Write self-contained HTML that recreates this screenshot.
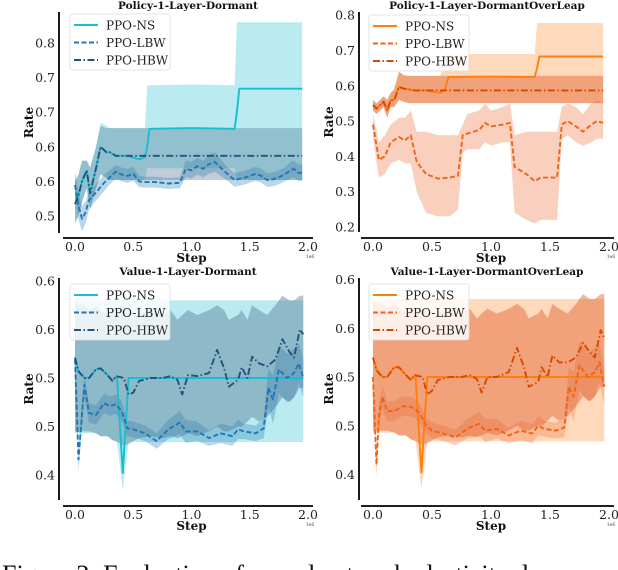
<!DOCTYPE html>
<html><head><meta charset="utf-8"><style>
html,body{margin:0;padding:0;background:#fff;width:618px;height:570px;overflow:hidden}
svg{display:block}
text{font-family:"DejaVu Serif","Liberation Serif",serif}
</style></head><body>
<svg id="fig" width="618" height="570" viewBox="0 0 618 570" xmlns="http://www.w3.org/2000/svg">
<rect width="618" height="570" fill="#fff"/>
<text x="2" y="583" font-size="26" style="font-family:'Liberation Serif',serif" fill="#111">Figure 2: Evaluation of neural network plasticity d</text>
</svg>
<script>
// ---------- data: top-left Policy-1-Layer-Dormant ----------
const tlNSx=[0,0.03,0.06,0.1,0.13,0.18,0.22,0.27,0.3,0.35,0.45,0.55,0.6,0.62,0.64,1.0,1.37,1.39,1.41,1.95];
const tlNSm=[0.517,0.53,0.55,0.566,0.533,0.569,0.600,0.592,0.592,0.587,0.587,0.582,0.585,0.6,0.626,0.627,0.626,0.65,0.684,0.684];
const tlNShi=[0.55,0.56,0.58,0.58,0.57,0.6,0.635,0.63,0.627,0.627,0.627,0.627,0.627,0.689,0.689,0.69,0.689,0.78,0.78,0.78];
const tlNSlo=[0.49,0.5,0.52,0.54,0.51,0.54,0.56,0.555,0.552,0.552,0.552,0.552,0.552,0.569,0.569,0.569,0.569,0.552,0.552,0.552];
const tlHBx=[0,0.03,0.06,0.1,0.13,0.18,0.22,0.27,0.3,0.35,1.95];
const tlHBm=[0.517,0.53,0.55,0.566,0.533,0.569,0.600,0.592,0.592,0.587,0.587];
const tlHBhi=[0.55,0.56,0.58,0.58,0.57,0.6,0.63,0.627,0.627,0.627,0.627];
const tlHBlo=[0.49,0.5,0.52,0.54,0.51,0.54,0.56,0.555,0.552,0.552,0.552];
const tlLBx=[0,0.03,0.06,0.09,0.12,0.16,0.2,0.25,0.3,0.35,0.4,0.45,0.5,0.55,0.6,0.7,0.8,0.9,0.95,1.0,1.05,1.1,1.15,1.2,1.25,1.3,1.37,1.45,1.5,1.55,1.6,1.65,1.7,1.75,1.8,1.85,1.88,1.92,1.95];
const tlLBm=[0.545,0.515,0.496,0.505,0.523,0.53,0.538,0.548,0.556,0.564,0.56,0.558,0.561,0.55,0.549,0.549,0.547,0.548,0.568,0.566,0.572,0.568,0.575,0.578,0.57,0.562,0.552,0.555,0.558,0.561,0.558,0.552,0.553,0.556,0.56,0.566,0.568,0.562,0.563];
const tlLBs=[0.02,0.02,0.018,0.016,0.014,0.012,0.012,0.012,0.01,0.01,0.01,0.01,0.01,0.008,0.008,0.008,0.008,0.008,0.012,0.012,0.012,0.012,0.014,0.014,0.012,0.01,0.01,0.01,0.01,0.01,0.01,0.01,0.01,0.01,0.01,0.012,0.012,0.012,0.012];
const tlTickV=[0.5,0.55,0.6,0.65,0.7,0.75];
const tlTickL=['0.5','0.6','0.6','0.7','0.7','0.8'];
// ---------- data: top-right Policy-1-Layer-DormantOverLeap ----------
const trNSx=[0,0.03,0.06,0.09,0.12,0.15,0.18,0.22,0.26,0.3,0.35,0.45,0.57,0.61,0.64,1.0,1.37,1.39,1.41,1.95];
const trNSm=[0.546,0.535,0.545,0.555,0.53,0.56,0.56,0.597,0.592,0.59,0.587,0.587,0.58,0.59,0.625,0.626,0.625,0.65,0.683,0.683];
const trNShi=[0.56,0.55,0.56,0.57,0.56,0.58,0.59,0.64,0.63,0.628,0.628,0.628,0.628,0.69,0.69,0.69,0.69,0.778,0.778,0.778];
const trNSlo=[0.53,0.52,0.53,0.54,0.51,0.54,0.54,0.56,0.555,0.551,0.551,0.551,0.551,0.551,0.551,0.551,0.551,0.551,0.551,0.551];
const trHBx=[0,0.03,0.06,0.09,0.12,0.15,0.18,0.22,0.26,0.3,0.35,1.95];
const trHBm=[0.546,0.535,0.545,0.555,0.53,0.56,0.56,0.597,0.592,0.59,0.587,0.587];
const trHBhi=[0.56,0.55,0.56,0.57,0.56,0.58,0.59,0.64,0.63,0.628,0.628,0.628];
const trHBlo=[0.53,0.52,0.53,0.54,0.51,0.54,0.54,0.56,0.555,0.551,0.551,0.551];
const trLBx=[0,0.05,0.1,0.15,0.22,0.27,0.32,0.37,0.45,0.55,0.65,0.72,0.76,0.8,0.9,0.95,1.0,1.1,1.16,1.2,1.3,1.37,1.42,1.5,1.56,1.6,1.65,1.72,1.78,1.85,1.9,1.95];
const trLBm=[0.49,0.39,0.40,0.44,0.455,0.445,0.46,0.385,0.35,0.337,0.34,0.345,0.46,0.465,0.475,0.495,0.485,0.49,0.495,0.37,0.35,0.33,0.34,0.34,0.34,0.49,0.5,0.485,0.47,0.49,0.5,0.495];
const trLBlo=[0.45,0.34,0.35,0.38,0.39,0.38,0.38,0.30,0.24,0.23,0.23,0.25,0.41,0.42,0.42,0.44,0.43,0.44,0.44,0.24,0.22,0.21,0.22,0.22,0.22,0.45,0.46,0.44,0.43,0.44,0.45,0.45];
const trLBhi=[0.52,0.44,0.46,0.49,0.51,0.51,0.53,0.47,0.47,0.46,0.46,0.46,0.49,0.52,0.53,0.55,0.53,0.54,0.55,0.46,0.47,0.47,0.47,0.47,0.47,0.54,0.55,0.54,0.52,0.55,0.56,0.55];
const trTickV=[0.2,0.3,0.4,0.5,0.6,0.7,0.8];
const trTickL=['0.2','0.3','0.4','0.5','0.6','0.7','0.8'];
// ---------- data: bottom-left Value-1-Layer-Dormant ----------
const blHBx=[0,0.03,0.08,0.12,0.18,0.22,0.28,0.32,0.35,0.42,0.46,0.5,0.55,0.65,0.75,0.82,0.88,0.92,0.97,1.05,1.15,1.22,1.28,1.32,1.4,1.43,1.48,1.52,1.58,1.65,1.72,1.78,1.84,1.88,1.93,1.96];
const blHBm=[0.521,0.507,0.5,0.5,0.509,0.51,0.503,0.497,0.502,0.5,0.483,0.485,0.497,0.5,0.5,0.502,0.498,0.483,0.503,0.502,0.505,0.529,0.51,0.491,0.498,0.511,0.5,0.522,0.515,0.512,0.519,0.54,0.527,0.521,0.55,0.545];
const blHBhi=[0.58,0.575,0.575,0.57,0.575,0.57,0.565,0.57,0.565,0.57,0.565,0.56,0.565,0.57,0.565,0.57,0.56,0.565,0.57,0.565,0.57,0.575,0.57,0.56,0.565,0.57,0.56,0.575,0.57,0.565,0.575,0.585,0.58,0.58,0.585,0.585];
const blHBlo=[0.445,0.445,0.445,0.445,0.443,0.44,0.44,0.436,0.435,0.43,0.432,0.435,0.438,0.44,0.438,0.44,0.438,0.44,0.443,0.44,0.445,0.45,0.445,0.445,0.45,0.45,0.455,0.46,0.455,0.46,0.47,0.48,0.475,0.48,0.49,0.49];
const blNSx=[0,0.03,0.08,0.12,0.18,0.22,0.28,0.32,0.36,0.41,0.46,1.96];
const blNSm=[0.521,0.507,0.5,0.5,0.509,0.51,0.503,0.497,0.502,0.402,0.5,0.5];
const blNShi=[0.58,0.58,0.58,0.58,0.58,0.58,0.58,0.58,0.58,0.58,0.58,0.58];
const blNSlo=[0.443,0.443,0.443,0.443,0.443,0.44,0.44,0.436,0.434,0.385,0.434,0.434];
const blLBx=[0,0.03,0.05,0.08,0.12,0.18,0.25,0.3,0.35,0.4,0.45,0.5,0.6,0.7,0.8,0.9,0.95,1.05,1.15,1.25,1.35,1.4,1.45,1.55,1.62,1.66,1.7,1.75,1.82,1.88,1.92,1.96];
const blLBm=[0.519,0.416,0.447,0.493,0.464,0.462,0.474,0.471,0.473,0.466,0.448,0.447,0.443,0.435,0.447,0.454,0.445,0.445,0.438,0.443,0.44,0.447,0.445,0.443,0.448,0.49,0.478,0.509,0.5,0.505,0.515,0.5];
const blLBs=[0.01,0.012,0.012,0.012,0.01,0.01,0.01,0.01,0.01,0.01,0.008,0.008,0.008,0.008,0.01,0.012,0.012,0.01,0.008,0.01,0.01,0.01,0.008,0.008,0.01,0.02,0.025,0.025,0.025,0.025,0.02,0.02];
const bTickV=[0.4,0.45,0.5,0.55,0.6];
const bTickL=['0.4','0.5','0.5','0.6','0.6'];
// ---------- data: bottom-right Value-1-Layer-DormantOverLeap ----------
const brHBm=[0.52,0.507,0.5,0.5,0.51,0.51,0.502,0.497,0.502,0.5,0.482,0.486,0.497,0.5,0.5,0.502,0.498,0.484,0.5,0.5,0.505,0.53,0.51,0.49,0.495,0.51,0.5,0.522,0.515,0.515,0.52,0.535,0.525,0.52,0.548,0.54];
const brNSm=[0.52,0.507,0.5,0.5,0.51,0.51,0.502,0.497,0.502,0.402,0.5,0.5];
const brLBm=[0.5,0.41,0.46,0.48,0.465,0.465,0.47,0.47,0.468,0.462,0.45,0.445,0.442,0.438,0.447,0.452,0.445,0.447,0.44,0.445,0.442,0.45,0.447,0.445,0.448,0.49,0.48,0.512,0.5,0.505,0.515,0.49];
const xTickV=[0,0.5,1.0,1.5,2.0];
const xTickL=['0.0','0.5','1.0','1.5','2.0'];

const NS='http://www.w3.org/2000/svg';
const svg=document.getElementById('fig');
function mk(tag,attrs,parent){const e=document.createElementNS(NS,tag);for(const k in attrs)e.setAttribute(k,attrs[k]);(parent||svg).appendChild(e);return e;}
function sub(a,b){return a.map((v,i)=>v-b[i]);}
function add(a,b){return a.map((v,i)=>v+b[i]);}

function panel(p){
  const g=mk('g',{});
  
  
  const X=v=>p.x0+(v/2)*(p.x2-p.x0);
  const Y=v=>p.yRef-(v-p.vRef)*p.k;
  p.series.forEach(s=>{
    let d='M'+s.x.map((x,i)=>X(x).toFixed(1)+','+Y(s.hi[i]).toFixed(1)).join('L');
    for(let i=s.x.length-1;i>=0;i--)d+='L'+X(s.x[i]).toFixed(1)+','+Y(s.lo[i]).toFixed(1);
    const b=mk('path',{d:d+'Z',fill:s.band,'fill-opacity':s.bo,stroke:'none'},g);
    
    
  });
  p.series.forEach(s=>{
    const l=mk('polyline',{points:s.x.map((x,i)=>X(x).toFixed(1)+','+Y(s.m[i]).toFixed(1)).join(' '),fill:'none',stroke:s.color,'stroke-width':1.9,'stroke-dasharray':s.dash||'none','stroke-linejoin':'round'},g);
    
    
  });
  const ys=mk('line',{x1:p.sx,x2:p.sx,y1:p.st,y2:p.sb,stroke:'#000','stroke-width':1.8},g);
  
  
  const xs=mk('line',{x1:p.x0-12,x2:p.x2+5,y1:p.xb,y2:p.xb,stroke:'#000','stroke-width':1.8},g);
  
  
  p.tv.forEach((v,i)=>{
    const t=mk('text',{x:p.sx-4,y:Y(v)+4.5,'font-size':12.5,'text-anchor':'end',fill:'#222'},g);
    t.textContent=p.tl[i];
    
    
  });
  xTickV.forEach((v,i)=>{
    const t=mk('text',{x:X(v),y:p.xb+13,'font-size':12.5,'text-anchor':'middle',fill:'#222'},g);
    t.textContent=xTickL[i];
    
    
  });
  const e6=mk('text',{x:p.x2+2,y:p.xb+20,'font-size':4.5,'text-anchor':'middle',fill:'#444'},g);
  e6.textContent='1e6';
  
  
  const xt=mk('text',{x:(p.x0+p.x2)/2,y:p.xb+24,'font-size':12,'font-weight':'bold','text-anchor':'middle',fill:'#111'},g);
  xt.textContent='Step';
  
  
  const yt=mk('text',{x:0,y:0,'font-size':12,'font-weight':'bold','text-anchor':'middle',fill:'#111',transform:'translate('+(p.sx-26)+','+((p.st+p.sb)/2)+') rotate(-90)'},g);
  yt.textContent='Rate';
  
  
  const tt=mk('text',{x:p.tx,y:p.ty,'font-size':10.5,'font-weight':'bold','text-anchor':'middle',fill:'#111'},g);
  tt.textContent=p.title;
  
  
  const lg=mk('g',{},g);
  
  
  mk('rect',{x:p.lx,y:p.ly,width:100,height:56,rx:2.5,fill:'#fff','fill-opacity':0.82,stroke:'#ddd','stroke-width':0.8},lg);
  const names=['PPO-NS','PPO-LBW','PPO-HBW'];
  p.series.forEach((s,i)=>{
    const yy=p.ly+11+i*17.5;
    mk('line',{x1:p.lx+4,x2:p.lx+28,y1:yy,y2:yy,stroke:s.color,'stroke-width':1.9,'stroke-dasharray':s.dash||'none'},lg);
    const t=mk('text',{x:p.lx+36,y:yy+4.3,'font-size':12,fill:'#222'},lg);
    t.textContent=names[i];
    
    
  });
}

const cNS='#17becf',cLB='#1f77b4',cHB='#23527c';
const oNS='#ff7f0e',oLB='#f0631a',oHB='#d94801';
panel({name:'panel-policy-dormant',title:'Policy-1-Layer-Dormant',tx:188,ty:9,x0:75,x2:308,yRef:216,vRef:0.5,k:692,sx:59,st:12,sb:233,xb:238,tv:tlTickV,tl:tlTickL,lx:70,ly:14,
 series:[
  {key:'ns',x:tlNSx,m:tlNSm,hi:tlNShi,lo:tlNSlo,color:cNS,band:cNS,bo:0.3},
  {key:'lbw',x:tlLBx,m:tlLBm,hi:add(tlLBm,tlLBs),lo:sub(tlLBm,tlLBs),color:cLB,band:cLB,bo:0.3,dash:'5,2.5'},
  {key:'hbw',x:tlHBx,m:tlHBm,hi:tlHBhi,lo:tlHBlo,color:cHB,band:'#4a6f8f',bo:0.35,dash:'7,2.5,1.5,2.5'}]});
panel({name:'panel-policy-dormant-overleap',title:'Policy-1-Layer-DormantOverLeap',tx:487,ty:9,x0:373,x2:609,yRef:227,vRef:0.2,k:353,sx:359,st:12,sb:232,xb:238,tv:trTickV,tl:trTickL,lx:369,ly:15,
 series:[
  {key:'ns',x:trNSx,m:trNSm,hi:trNShi,lo:trNSlo,color:oNS,band:'#ffab6a',bo:0.45},
  {key:'lbw',x:trLBx,m:trLBm,hi:trLBhi,lo:trLBlo,color:oLB,band:'#f08a5a',bo:0.4,dash:'5,2.5'},
  {key:'hbw',x:trHBx,m:trHBm,hi:trHBhi,lo:trHBlo,color:oHB,band:'#e0602a',bo:0.45,dash:'7,2.5,1.5,2.5'}]});
panel({name:'panel-value-dormant',title:'Value-1-Layer-Dormant',tx:188,ty:275,x0:75,x2:308,yRef:378,vRef:0.5,k:970,sx:59,st:278,sb:500,xb:506,tv:bTickV,tl:bTickL,lx:70,ly:284,
 series:[
  {key:'ns',x:blNSx,m:blNSm,hi:blNShi,lo:blNSlo,color:cNS,band:cNS,bo:0.3},
  {key:'lbw',x:blLBx,m:blLBm,hi:add(blLBm,blLBs),lo:sub(blLBm,blLBs),color:cLB,band:cLB,bo:0.3,dash:'5,2.5'},
  {key:'hbw',x:blHBx,m:blHBm,hi:blHBhi,lo:blHBlo,color:cHB,band:'#4a6f8f',bo:0.4,dash:'7,2.5,1.5,2.5'}]});
panel({name:'panel-value-dormant-overleap',title:'Value-1-Layer-DormantOverLeap',tx:487,ty:275,x0:373,x2:609,yRef:377,vRef:0.5,k:975,sx:359,st:278,sb:500,xb:506,tv:bTickV,tl:bTickL,lx:369,ly:284,
 series:[
  {key:'ns',x:blNSx,m:brNSm,hi:blNShi,lo:blNSlo,color:oNS,band:'#ffab6a',bo:0.45},
  {key:'lbw',x:blLBx,m:brLBm,hi:add(brLBm,blLBs),lo:sub(brLBm,blLBs),color:oLB,band:'#f08a5a',bo:0.4,dash:'5,2.5'},
  {key:'hbw',x:blHBx,m:brHBm,hi:blHBhi,lo:blHBlo,color:oHB,band:'#e0602a',bo:0.45,dash:'7,2.5,1.5,2.5'}]});
</script>
</body></html>
